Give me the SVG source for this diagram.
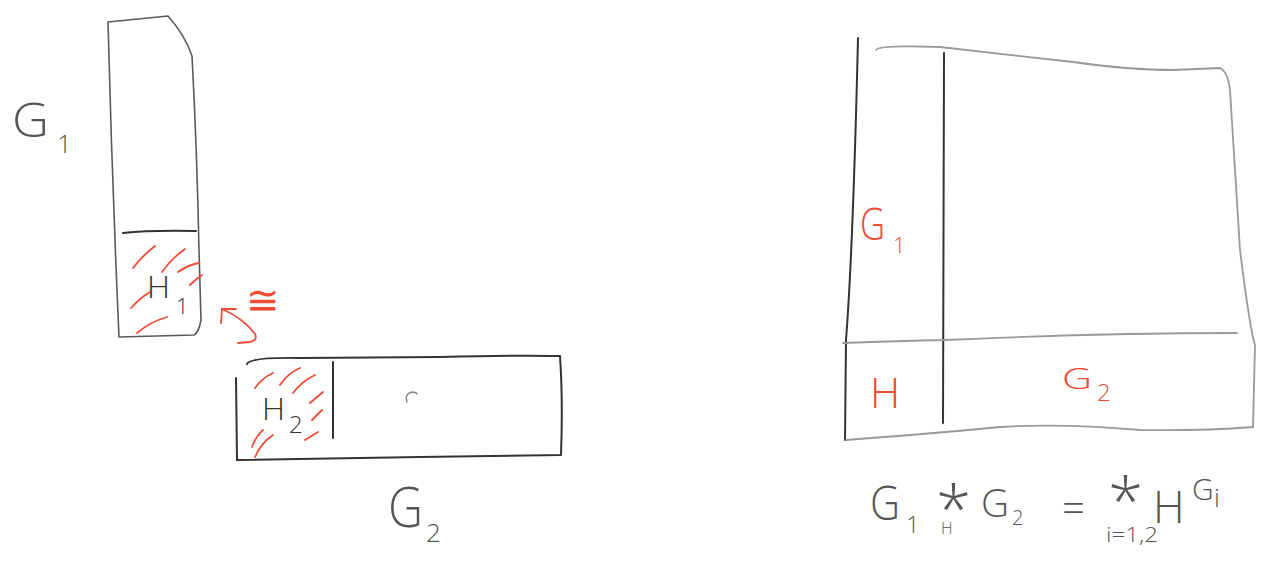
<svg xmlns="http://www.w3.org/2000/svg" width="1264" height="562" viewBox="0 0 1264 562">
<style>
.pen{fill:none;stroke:#5a5a5a;stroke-width:1.6;stroke-linecap:round;stroke-linejoin:round}
.dark{fill:none;stroke:#333;stroke-width:2;stroke-linecap:round;stroke-linejoin:round}
.light{fill:none;stroke:#9a9a9a;stroke-width:1.8;stroke-linecap:round;stroke-linejoin:round}
.hatch{fill:none;stroke:#f04b35;stroke-width:1.8;stroke-linecap:round}
.t{font-family:"Open Sans","Liberation Sans",sans-serif;font-weight:300;fill:#555}
.tb{font-family:"Open Sans","Liberation Sans",sans-serif;font-weight:300;fill:#333}
.tr{font-family:"Open Sans","Liberation Sans",sans-serif;font-weight:300;fill:#f04b35}
</style>
<rect width="1264" height="562" fill="#ffffff"/>

<g id="G1-block">
  <path class="pen" d="M108 22 L168 16 Q185 35 192 56 Q197 150 199 250 L201 320 Q199 332 194 335 L119 337 Q112 180 108 22 Z"/>
  <path class="dark" d="M123 233 Q150 230 196 231"/>
  <path class="hatch" d="M133 268 Q142 256 155 246 M162 272 Q172 258 185 249 M178 272 Q190 264 199 263 M190 285 Q196 279 202 275 M131 308 Q140 298 150 292 M137 333 Q150 322 167 317"/>
  <text class="tb" x="147" y="298" font-size="32">H</text>
  <text class="tb" x="176" y="314" font-size="22">1</text>
  <text class="t" x="12" y="137" font-size="48" textLength="37" lengthAdjust="spacingAndGlyphs">G</text>
  <text class="t" x="57" y="153" font-size="26">1</text>
</g>

<g id="G2-block">
  <path class="dark" d="M247 364 Q250 357 300 358 L440 357 Q520 355 560 356 Q563 400 561 455 L420 457 L237 460"/>
  <path class="dark" d="M236 378 L237 460"/>
  <path class="dark" d="M333 362 L333 438"/>
  <path class="hatch" d="M255 388 Q262 378 273 373 M280 385 Q288 373 300 368 M293 393 Q302 381 315 375 M310 403 L323 392 M312 420 L322 410 M305 440 L318 432 M252 447 Q256 436 263 430 M255 457 Q261 443 273 435"/>
  <path d="M407 402 Q404 394 412 392 Q416 392 417 394" fill="none" stroke="#888" stroke-width="1.4" stroke-linecap="round"/>
  <text class="tb" x="262" y="420" font-size="32">H</text>
  <text class="tb" x="289" y="433" font-size="24">2</text>
  <text class="t" x="388" y="527" font-size="56" textLength="35" lengthAdjust="spacingAndGlyphs">G</text>
  <text class="t" x="426" y="542" font-size="26">2</text>
</g>

<g id="connectors">
  <path class="hatch" d="M222 309 Q243 318 255 334 Q258 340 250 342 L238 343"/>
  <path class="hatch" d="M222 309 L221 323 M222 309 L236 309"/>
  <text class="tr" x="246" y="314" font-size="40">≅</text>
</g>

<g id="amalgam">
  <path class="dark" d="M858 38 Q853 250 846 340 L845 440"/>
  <path class="light" d="M876 50 Q878 45 940 47 Q1010 55 1073 62 Q1130 70 1173 70 L1220 68 Q1228 72 1230 90 L1240 250 Q1250 330 1255 345 L1253 427"/>
  <path class="light" d="M846 440 Q950 432 1000 427 Q1060 423 1140 430 Q1200 431 1253 427"/>
  <path class="dark" d="M944 53 L943 423"/>
  <path class="light" d="M843 343 Q900 341 944 340 Q1100 333 1237 333"/>
  <text class="tr" x="860" y="240" font-size="44" textLength="25" lengthAdjust="spacingAndGlyphs">G</text>
  <text class="tr" x="893" y="253" font-size="22">1</text>
  <text class="tr" x="870" y="408" font-size="42">H</text>
  <text class="tr" x="1062" y="389" font-size="30" textLength="30" lengthAdjust="spacingAndGlyphs">G</text>
  <text class="tr" x="1097" y="401" font-size="24">2</text>
</g>

<g id="formula">
  <text class="t" x="870" y="520" font-size="48" textLength="30" lengthAdjust="spacingAndGlyphs">G</text>
  <text class="t" x="906" y="533" font-size="24">1</text>
  <text class="t" x="936" y="532" font-size="64">*</text>
  <text class="t" x="941" y="534" font-size="16">H</text>
  <text class="t" x="981" y="517" font-size="38" textLength="28" lengthAdjust="spacingAndGlyphs">G</text>
  <text class="t" x="1012" y="525" font-size="20">2</text>
  <text class="t" x="1062" y="522" font-size="40">=</text>
  <text class="t" x="1108" y="524" font-size="64">*</text>
  <text class="t" x="1106" y="542" font-size="20" textLength="52" lengthAdjust="spacingAndGlyphs">i=1,2</text>
  <text class="t" x="1153" y="523" font-size="44">H</text>
  <text class="t" x="1192" y="500" font-size="30">G</text>
  <text class="t" x="1214" y="507" font-size="26">i</text>
</g>
</svg>
